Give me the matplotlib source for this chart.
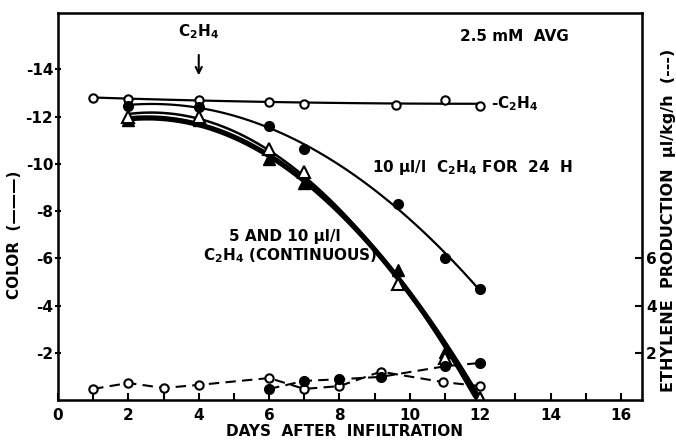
import matplotlib
matplotlib.use('Agg')
import matplotlib.pyplot as plt
import numpy as np

plt.rcParams['font.family'] = 'DejaVu Sans'
plt.rcParams['font.weight'] = 'bold'
plt.rcParams['mathtext.default'] = 'bf'
plt.rcParams['axes.unicode_minus'] = False

# color, no ethylene (open circles, solid)
days_ctrl = [1, 2, 4, 6, 7, 9.6, 11, 12]
color_ctrl = [-12.8, -12.77, -12.72, -12.64, -12.55, -12.5, -12.7, -12.47]

# color, 10 ul/l C2H4 for 24 h (filled circles, solid)
days_24h = [2, 4, 6, 7, 9.66, 11, 12]
color_24h = [-12.47, -12.43, -11.62, -10.64, -8.3, -6.0, -4.72]

# color, continuous C2H4 (triangles)
days_tri = [2, 4, 6, 7, 9.65, 11, 12]
color_tri_10 = [-11.85, -11.85, -10.2, -9.2, -5.5, -2.05, -0.1]
color_tri_5 = [-12.0, -12.0, -10.65, -9.66, -4.93, -1.8, -0.1]

# ethylene production (dashed, right axis)
days_eth_open = [1, 2, 3, 4, 6, 7, 8, 9.17, 10.94, 12]
eth_open = [0.47, 0.72, 0.51, 0.64, 0.93, 0.47, 0.59, 1.2, 0.76, 0.59]
days_eth_fill = [6, 7, 8, 9.17, 11, 12]
eth_fill = [0.47, 0.81, 0.88, 0.98, 1.43, 1.57]

fig = plt.figure(figsize=(6.76, 4.42), dpi=100)
ax = fig.add_axes([0.0858, 0.095, 0.864, 0.876])


def fit_line(x, y, deg):
    xs = np.linspace(min(x), max(x), 100)
    return xs, np.polyval(np.polyfit(x, y, deg), xs)


xs, ys = fit_line(days_ctrl, color_ctrl, 2)
ax.plot(xs, ys, color='k', lw=1.6)
ax.plot(days_ctrl, color_ctrl, 'o', mfc='white', mec='k', mew=1.5, ms=6)

xs, ys = fit_line(days_24h, color_24h, 2)
ax.plot(xs, ys, color='k', lw=1.6)
ax.plot(days_24h, color_24h, 'o', color='k', ms=7)

xs, ys = fit_line(days_tri, color_tri_10, 2)
ax.plot(xs, np.minimum(ys, 0), color='k', lw=3.8)
xs, ys = fit_line(days_tri, color_tri_5, 2)
ax.plot(xs, np.minimum(ys, 0), color='k', lw=1.8)
ax.plot(days_tri, color_tri_10, '^', color='k', ms=8)
ax.plot(days_tri, color_tri_5, '^', mfc='white', mec='k', mew=1.5, ms=8)

ax.set_xlim(0, 16.6)
ax.set_ylim(0, -16.4)
ax.set_xticks(range(0, 17, 2))
ax.set_xticks(range(0, 17), minor=True)
ax.set_yticks([-2, -4, -6, -8, -10, -12, -14])
ax.tick_params(axis='x', which='both', direction='in', length=5, width=1.5, labelsize=11, pad=6)
ax.tick_params(axis='y', direction='inout', length=5, width=1.5, labelsize=11, pad=1)
for s in ax.spines.values():
    s.set_linewidth(1.8)

ax2 = ax.twinx()
ax2.set_ylim(0, 16.4)
ax2.plot(days_eth_open, eth_open, '--o', color='k', lw=1.5, dashes=(5, 3),
         mfc='white', mec='k', mew=1.5, ms=6)
ax2.plot(days_eth_fill, eth_fill, '--o', color='k', lw=1.5, dashes=(5, 3), ms=7)
ax2.set_yticks([2, 4, 6])
ax2.tick_params(axis='y', direction='in', length=5, width=1.5, labelsize=11, pad=3)

ax.annotate(r'C$_2$H$_4$', xy=(4, -13.75), xytext=(4, -15.6), ha='center', va='center',
            fontsize=11, arrowprops=dict(arrowstyle='->', lw=1.5, color='k', shrinkA=8, shrinkB=0))
ax.text(12.98, -15.4, '2.5 mM  AVG', ha='center', va='center', fontsize=11)
ax.text(12.3, -12.55, r'-C$_2$H$_4$', ha='left', va='center', fontsize=11)
ax.text(8.92, -9.85, r'10 µl/l  C$_2$H$_4$ FOR  24  H', ha='left', va='center', fontsize=11)
ax.text(6.45, -6.92, r'5 AND 10 µl/l', ha='center', va='center', fontsize=11)
ax.text(6.6, -6.1, r'C$_2$H$_4$ (CONTINUOUS)', ha='center', va='center', fontsize=11)

fig.text(344 / 676, 1 - 431 / 442, 'DAYS  AFTER  INFILTRATION', ha='center', va='center', fontsize=11)
fig.text(15 / 676, 1 - 235 / 442, 'COLOR  (———)', rotation=90, ha='center', va='center', fontsize=11)
fig.text(668 / 676, 1 - 220 / 442, 'ETHYLENE  PRODUCTION  µl/kg/h  (---)', rotation=90,
         ha='center', va='center', fontsize=11.5)

fig.savefig('out.png', dpi=100)
